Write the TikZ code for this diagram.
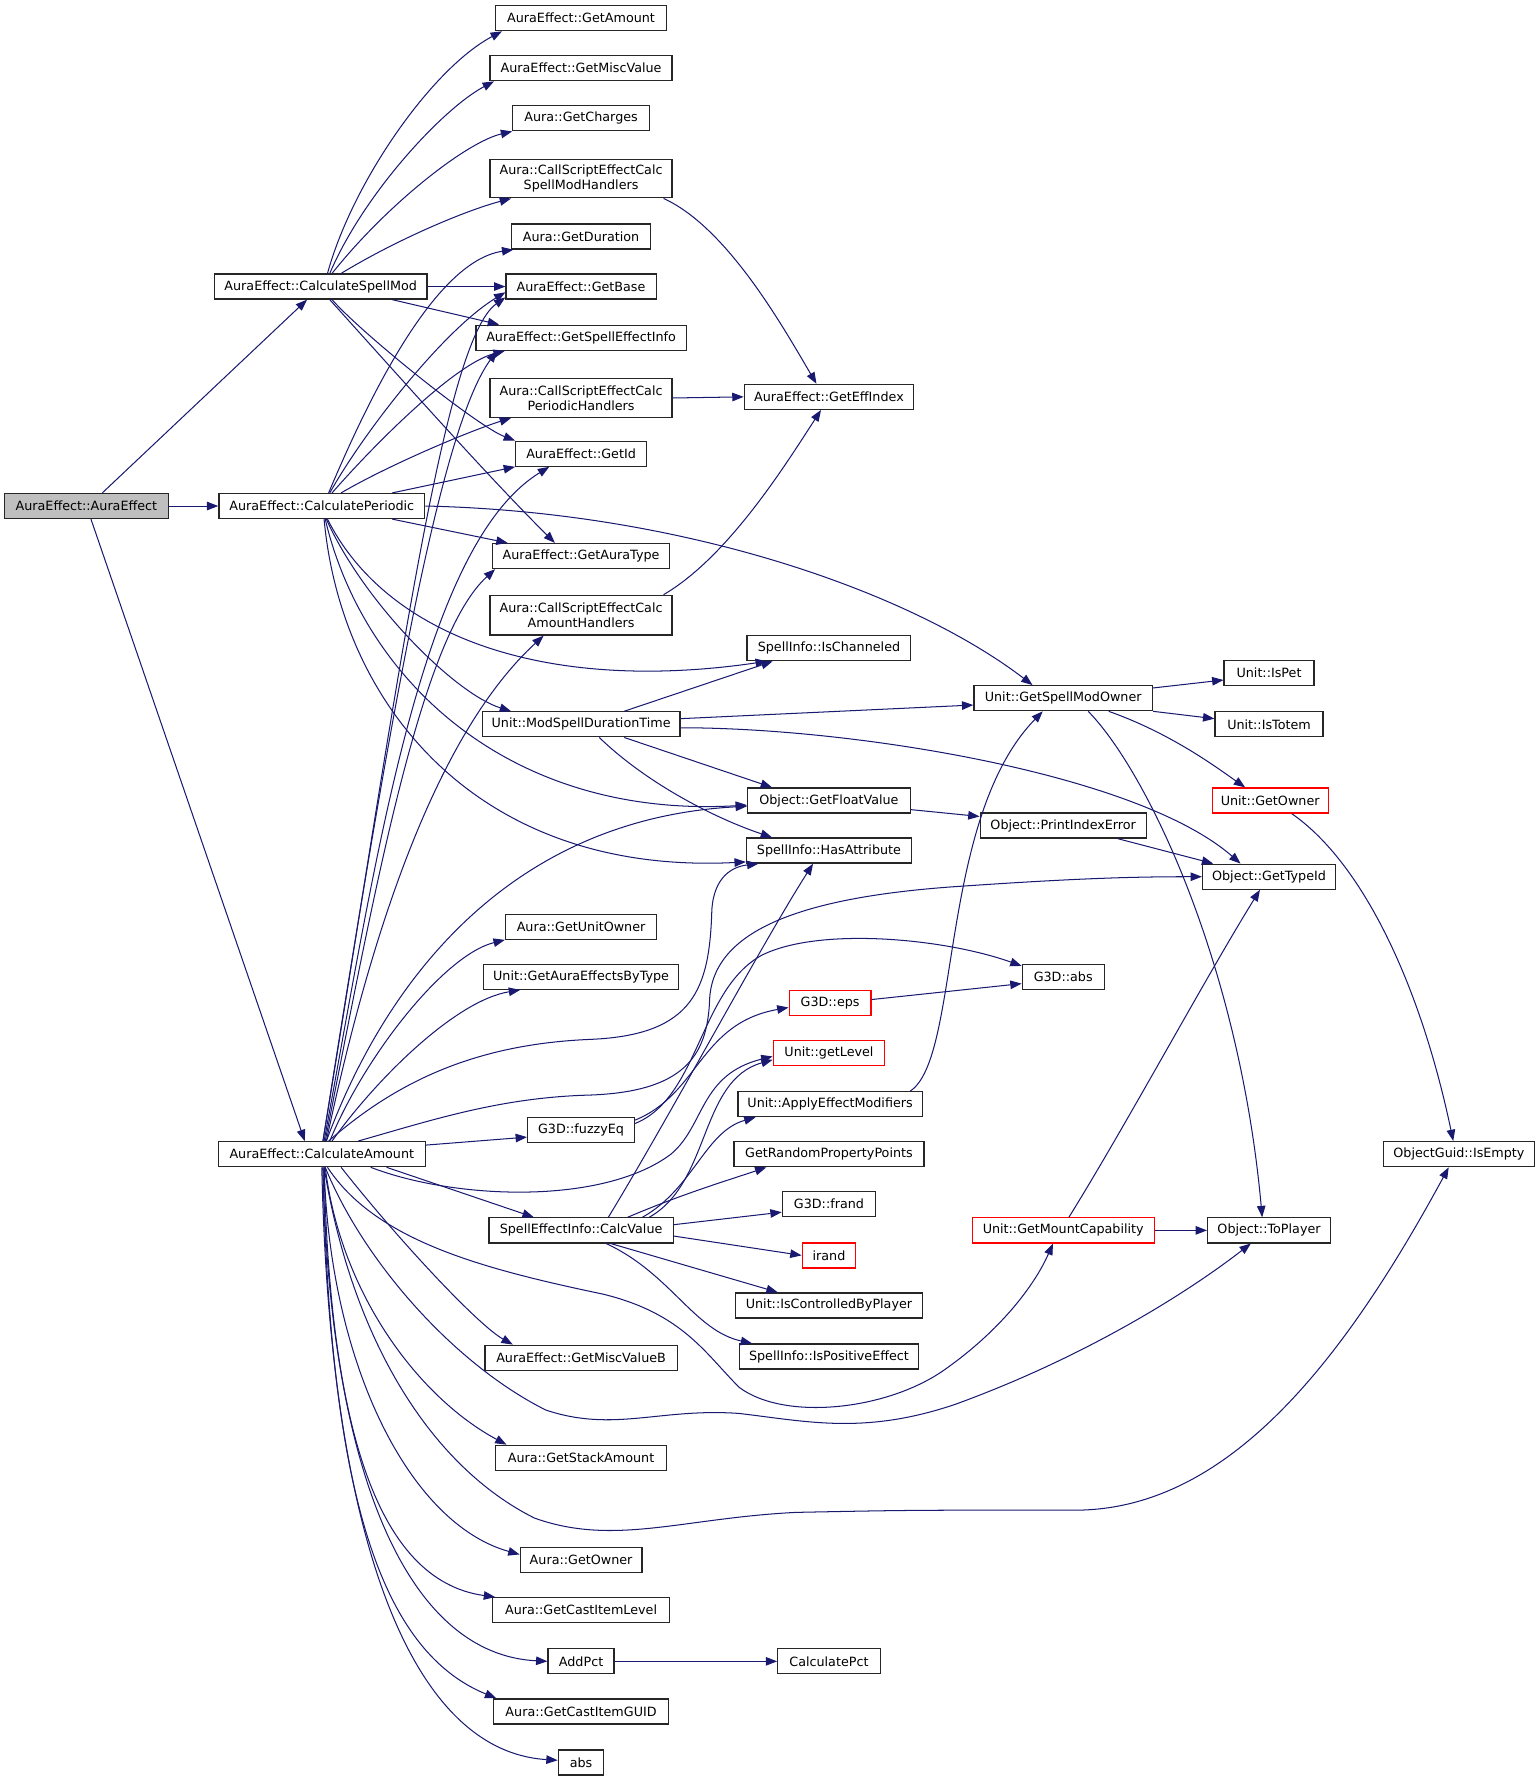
\documentclass[tikz,border=0pt]{standalone}
\usepackage{fontspec}
\newfontfamily\dejavu{DejaVu Sans}
\usetikzlibrary{arrows.meta}
\definecolor{edgeblue}{RGB}{25,25,112}
\tikzset{
    fn/.style={draw=black!85, fill=white, line width=1.1pt, minimum height=22pt,
               inner xsep=2pt, inner ysep=1pt, font=\dejavu\fontsize{11.2}{13}\selectfont},
    fnroot/.style={fn, fill=black!25},
    fnred/.style={fn, draw=red},
    fntwo/.style={fn, align=center, minimum height=34pt},
    call/.style={draw=edgeblue, line width=0.9pt, -{Triangle[length=10pt,width=7.5pt]}},
}
\begin{document}
\begin{tikzpicture}[x=1pt, y=-1pt]
    \useasboundingbox (0,0) rectangle (1354,1568);

    % Root and first level
    \node[fnroot, minimum width=144pt] (AE) at (76,445) {AuraEffect::AuraEffect};
    \node[fn, minimum width=187pt] (CSM) at (282,252) {AuraEffect::CalculateSpellMod};
    \node[fn, minimum width=181pt] (CP) at (283,445) {AuraEffect::CalculatePeriodic};
    \node[fn, minimum width=182pt] (CA) at (283,1015) {AuraEffect::CalculateAmount};

    % Second column
    \node[fn, minimum width=150pt] (GetAmount) at (511,16) {AuraEffect::GetAmount};
    \node[fn, minimum width=160pt] (GetMiscValue) at (511,60) {AuraEffect::GetMiscValue};
    \node[fn, minimum width=120pt] (GetCharges) at (511,104) {Aura::GetCharges};
    \node[fntwo, minimum width=160pt] (SpellModH) at (511,157) {Aura::CallScriptEffectCalc\\SpellModHandlers};
    \node[fn, minimum width=122pt] (GetDuration) at (511,208) {Aura::GetDuration};
    \node[fn, minimum width=132pt] (GetBase) at (511,252) {AuraEffect::GetBase};
    \node[fn, minimum width=185pt] (GetSEI) at (511,297) {AuraEffect::GetSpellEffectInfo};
    \node[fntwo, minimum width=160pt] (PeriodicH) at (511,350) {Aura::CallScriptEffectCalc\\PeriodicHandlers};
    \node[fn, minimum width=115pt] (GetId) at (511,399) {AuraEffect::GetId};
    \node[fn, minimum width=156pt] (GetAuraType) at (511,489) {AuraEffect::GetAuraType};
    \node[fntwo, minimum width=160pt, minimum height=35pt] (AmountH) at (511,541) {Aura::CallScriptEffectCalc\\AmountHandlers};
    \node[fn, minimum width=174pt] (ModSDT) at (511,637) {Unit::ModSpellDurationTime};
    \node[fn, minimum width=133pt] (GetUnitOwner) at (511,815) {Aura::GetUnitOwner};
    \node[fn, minimum width=172pt] (GetAEBT) at (511,859) {Unit::GetAuraEffectsByType};
    \node[fn, minimum width=94pt] (FuzzyEq) at (511,994) {G3D::fuzzyEq};
    \node[fn, minimum width=162pt] (CalcValue) at (511,1082) {SpellEffectInfo::CalcValue};
    \node[fn, minimum width=169pt] (GetMiscValueB) at (511,1194) {AuraEffect::GetMiscValueB};
    \node[fn, minimum width=150pt] (GetStackAmount) at (511,1282) {Aura::GetStackAmount};
    \node[fn, minimum width=107pt] (AuraGetOwner) at (511,1372) {Aura::GetOwner};
    \node[fn, minimum width=156pt] (GetCastItemLevel) at (511,1416) {Aura::GetCastItemLevel};
    \node[fn, minimum width=58pt] (AddPct) at (511,1461) {AddPct};
    \node[fn, minimum width=154pt] (GetCastItemGUID) at (511,1505) {Aura::GetCastItemGUID};
    \node[fn, minimum width=40pt] (Abs) at (511,1550) {abs};

    % Third column
    \node[fn, minimum width=149pt] (GetEffIndex) at (729,349) {AuraEffect::GetEffIndex};
    \node[fn, minimum width=144pt] (IsChanneled) at (729,570) {SpellInfo::IsChanneled};
    \node[fn, minimum width=143pt] (GetFloatValue) at (729,704) {Object::GetFloatValue};
    \node[fn, minimum width=145pt] (HasAttribute) at (729,748) {SpellInfo::HasAttribute};
    \node[fnred, minimum width=72pt] (Eps) at (730,882) {G3D::eps};
    \node[fnred, minimum width=98pt] (GetLevel) at (729,926) {Unit::getLevel};
    \node[fn, minimum width=162pt] (ApplyEM) at (730,971) {Unit::ApplyEffectModifiers};
    \node[fn, minimum width=167pt] (GetRPP) at (729,1015) {GetRandomPropertyPoints};
    \node[fn, minimum width=82pt] (Frand) at (729,1059) {G3D::frand};
    \node[fnred, minimum width=47pt] (Irand) at (729,1104) {irand};
    \node[fn, minimum width=165pt] (IsCBP) at (729,1148) {Unit::IsControlledByPlayer};
    \node[fn, minimum width=158pt] (IsPosEff) at (729,1193) {SpellInfo::IsPositiveEffect};
    \node[fn, minimum width=90pt] (CalcPct) at (729,1461) {CalculatePct};

    % Fourth column
    \node[fn, minimum width=157pt] (GetSMO) at (935,614) {Unit::GetSpellModOwner};
    \node[fn, minimum width=146pt] (PrintIE) at (935,726) {Object::PrintIndexError};
    \node[fn, minimum width=72pt] (G3DAbs) at (935,859) {G3D::abs};
    \node[fnred, minimum width=160pt] (GetMountCap) at (935,1082) {Unit::GetMountCapability};

    % Fifth and sixth columns
    \node[fn, minimum width=79pt] (IsPet) at (1116,592) {Unit::IsPet};
    \node[fn, minimum width=95pt] (IsTotem) at (1116,637) {Unit::IsTotem};
    \node[fnred, minimum width=102pt] (UnitGetOwner) at (1117,704) {Unit::GetOwner};
    \node[fn, minimum width=117pt] (GetTypeId) at (1116,771) {Object::GetTypeId};
    \node[fn, minimum width=108pt] (ToPlayer) at (1116,1082) {Object::ToPlayer};
    \node[fn, minimum width=133pt] (IsEmpty) at (1283,1015) {ObjectGuid::IsEmpty};

    % Calls of the constructor
    \draw[call] ([xshift=14pt]AE.north) -- ([xshift=-12pt]CSM.south);
    \draw[call] (AE.east) -- (CP.west);
    \draw[call] ([xshift=4pt]AE.south) -- ([xshift=-15pt]CA.north);

    % CalculateSpellMod
    \draw[call] ([xshift=6pt]CSM.north) .. controls (310,160) and (380,60) .. ([xshift=6pt]GetAmount.south west);
    \draw[call] ([xshift=8pt]CSM.north) .. controls (320,170) and (390,95) .. ([xshift=4pt]GetMiscValue.south west);
    \draw[call] ([xshift=10pt]CSM.north) .. controls (340,180) and (410,125) .. (GetCharges.south west);
    \draw[call] ([xshift=18pt]CSM.north) .. controls (350,210) and (410,185) .. ([xshift=19pt]SpellModH.south west);
    \draw[call] (CSM.east) -- (GetBase.west);
    \draw[call] ([xshift=63pt]CSM.south) -- ([xshift=21pt]GetSEI.north west);
    \draw[call] ([xshift=10pt]CSM.south) .. controls (320,295) and (420,375) .. (GetId.north west);
    \draw[call] ([xshift=8pt]CSM.south) .. controls (350,330) and (430,420) .. ([xshift=-23pt]GetAuraType.north);

    % CalculatePeriodic
    \draw[call] ([xshift=6pt]CP.north) .. controls (320,360) and (380,230) .. ([xshift=2pt]GetDuration.south west);
    \draw[call] ([xshift=7pt]CP.north) .. controls (320,380) and (390,290) .. ([yshift=-5pt]GetBase.west);
    \draw[call] ([xshift=9pt]CP.north) .. controls (330,390) and (400,320) .. ([xshift=26pt]GetSEI.south west);
    \draw[call] ([xshift=17pt]CP.north) .. controls (340,410) and (410,380) .. ([xshift=19pt]PeriodicH.south west);
    \draw[call] ([xshift=62pt]CP.north) -- (GetId.south west);
    \draw[call] ([xshift=62pt]CP.south) -- ([xshift=14pt]GetAuraType.north west);
    \draw[call] (CP.east) .. controls (600,450) and (800,520) .. ([xshift=-27pt]GetSMO.north);
    \draw[call] ([xshift=5pt]CP.south) .. controls (340,560) and (480,610) .. ([xshift=18pt]IsChanneled.south west);
    \draw[call] ([xshift=4pt]CP.south) .. controls (320,530) and (400,610) .. ([xshift=26pt]ModSDT.north west);
    \draw[call] ([xshift=3pt]CP.south) .. controls (320,600) and (450,720) .. ([yshift=-4pt]GetFloatValue.west);
    \draw[call] ([xshift=2pt]CP.south) .. controls (300,620) and (420,770) .. ([yshift=-10pt]HasAttribute.west);

    % ModSpellDurationTime
    \draw[call] ([xshift=38pt]ModSDT.north) -- ([xshift=23pt]IsChanneled.south west);
    \draw[call] ([yshift=5pt]ModSDT.east) -- ([yshift=-6pt]GetSMO.west);
    \draw[call] ([yshift=-3pt]ModSDT.east) .. controls (750,640) and (1000,680) .. ([xshift=34pt]GetTypeId.north west);
    \draw[call] ([xshift=38pt]ModSDT.south) -- ([xshift=22pt]GetFloatValue.north west);
    \draw[call] ([xshift=16pt]ModSDT.south) .. controls (570,690) and (630,720) .. ([xshift=23pt]HasAttribute.north west);

    % Script handlers
    \draw[call] ([xshift=-8pt]SpellModH.south east) .. controls (640,200) and (690,290) .. ([xshift=-11pt]GetEffIndex.north);
    \draw[call] (PeriodicH.east) -- (GetEffIndex.west);
    \draw[call] ([xshift=-8pt]AmountH.north east) .. controls (640,490) and (690,410) .. ([xshift=-7pt]GetEffIndex.south);

    % GetSpellModOwner
    \draw[call] ([yshift=9pt]GetSMO.east) -- ([yshift=-6pt]IsPet.west);
    \draw[call] (GetSMO.south east) -- ([yshift=5pt]IsTotem.west);
    \draw[call] ([xshift=40pt]GetSMO.south) .. controls (1030,645) and (1070,675) .. ([xshift=-22pt]UnitGetOwner.north);
    \draw[call] ([xshift=22pt]GetSMO.south) .. controls (1010,680) and (1090,850) .. ([xshift=-6pt]ToPlayer.north);

    % Right part
    \draw[call] ([yshift=-8pt]GetFloatValue.east) -- ([yshift=8pt]PrintIE.west);
    \draw[call] ([xshift=48pt]PrintIE.south) -- ([xshift=10pt]GetTypeId.north west);
    \draw[call] ([xshift=19pt]UnitGetOwner.south) .. controls (1200,760) and (1250,870) .. ([xshift=-5pt]IsEmpty.north);
    \draw[call] ([yshift=3pt]Eps.east) -- ([yshift=-6pt]G3DAbs.west);
    \draw[call] ([xshift=-11pt]ApplyEM.north east) .. controls (845,930) and (825,720) .. ([xshift=-18pt]GetSMO.south);
    \draw[call] (GetMountCap.east) -- (ToPlayer.west);
    \draw[call] ([xshift=5pt]GetMountCap.north) .. controls (990,990) and (1060,860) .. ([xshift=-8pt]GetTypeId.south);
    \draw[call] (AddPct.east) -- (CalcPct.west);

    % fuzzyEq
    \draw[call] ([yshift=6pt]FuzzyEq.east) .. controls (615,965) and (615,870) .. (670,840)
        .. controls (720,815) and (830,825) .. ([yshift=-2pt]G3DAbs.north west);
    \draw[call] ([yshift=9pt]FuzzyEq.east) .. controls (615,962) and (615,900) .. ([yshift=-4pt]Eps.west);

    % CalcValue
    \draw[call] ([xshift=24pt]CalcValue.north) .. controls (590,980) and (670,830) .. ([xshift=-14pt]HasAttribute.south);
    \draw[call] ([xshift=60pt]CalcValue.north) .. controls (625,1040) and (615,950) .. ([yshift=-6pt]GetLevel.west);
    \draw[call] ([xshift=54pt]CalcValue.north) .. controls (610,1045) and (620,995) .. ([xshift=16pt]ApplyEM.south west);
    \draw[call] ([xshift=41pt]CalcValue.north) .. controls (600,1050) and (640,1038) .. ([xshift=29pt]GetRPP.south west);
    \draw[call] ([yshift=5pt]CalcValue.east) -- ([yshift=-7pt]Frand.west);
    \draw[call] ([yshift=-5pt]CalcValue.east) -- (Irand.west);
    \draw[call] ([xshift=26pt]CalcValue.south) -- ([xshift=38pt]IsCBP.north west);
    \draw[call] ([xshift=22pt]CalcValue.south) .. controls (590,1120) and (610,1170) .. ([xshift=12pt]IsPosEff.north west);

    % CalculateAmount, upwards
    \draw[call] ([xshift=1pt]CA.north) .. controls (350,600) and (390,300) .. ([yshift=2pt]GetBase.south west);
    \draw[call] ([xshift=1pt]CA.north) .. controls (340,650) and (385,380) .. ([xshift=19pt]GetSEI.south west);
    \draw[call] ([xshift=2pt]CA.north) .. controls (330,760) and (370,480) .. ([xshift=-28pt]GetId.south);
    \draw[call] ([xshift=3pt]CA.north) .. controls (330,780) and (370,560) .. ([xshift=3pt]GetAuraType.south west);
    \draw[call] ([xshift=4pt]CA.north) .. controls (330,800) and (390,640) .. ([xshift=-33pt]AmountH.south);
    \draw[call] ([xshift=4pt]CA.north) .. controls (340,860) and (450,720) .. ([yshift=-5pt]GetFloatValue.west);
    \draw[call] ([xshift=6pt]CA.north) .. controls (350,950) and (420,918) .. (520,914)
        .. controls (610,910) and (624,870) .. (626,800)
        .. controls (628,770) and (645,762) .. ([xshift=11pt]HasAttribute.south west);
    \draw[call] ([xshift=32pt]CA.north) .. controls (380,985) and (440,965) .. (519,963)
        .. controls (600,960) and (622,930) .. (624,880)
        .. controls (626,820) and (700,790) .. (836,780)
        .. controls (950,772) and (1000,771) .. (GetTypeId.west);
    \draw[call] ([xshift=7pt]CA.north) .. controls (320,930) and (390,840) .. (GetUnitOwner.south west);
    \draw[call] ([xshift=9pt]CA.north) .. controls (330,950) and (400,880) .. ([xshift=33pt]GetAEBT.south west);
    \draw[call] ([yshift=8pt]CA.east) -- ([yshift=-6pt]FuzzyEq.west);

    % CalculateAmount, downwards
    \draw[call] ([xshift=57pt]CA.south) -- ([xshift=40pt]CalcValue.north west);
    \draw[call] ([xshift=43pt]CA.south) .. controls (400,1055) and (530,1060) .. (590,1015)
        .. controls (620,990) and (615,945) .. ([yshift=-3pt]GetLevel.west);
    \draw[call] ([xshift=5pt]CA.south) .. controls (330,1090) and (420,1115) .. (530,1138)
        .. controls (600,1155) and (620,1190) .. (650,1220)
        .. controls (690,1250) and (780,1240) .. (830,1205)
        .. controls (880,1170) and (910,1130) .. ([xshift=-9pt]GetMountCap.south);
    \draw[call] ([xshift=3pt]CA.south) .. controls (320,1110) and (400,1200) .. (480,1240)
        .. controls (540,1260) and (580,1238) .. (650,1243)
        .. controls (710,1250) and (760,1262) .. (840,1235)
        .. controls (950,1195) and (1040,1140) .. ([xshift=-16pt]ToPlayer.south);
    \draw[call] ([xshift=2pt]CA.south) .. controls (310,1180) and (380,1290) .. (470,1335)
        .. controls (540,1360) and (600,1335) .. (700,1330)
        .. controls (800,1328) .. (950,1328)
        .. controls (1080,1325) and (1180,1200) .. ([xshift=-9pt]IsEmpty.south);
    \draw[call] ([xshift=17pt]CA.south) .. controls (350,1090) and (420,1165) .. ([xshift=25pt]GetMiscValueB.north west);
    \draw[call] ([xshift=3pt]CA.south) .. controls (300,1140) and (370,1230) .. ([xshift=10pt]GetStackAmount.north west);
    \draw[call] ([xshift=2pt]CA.south) .. controls (290,1200) and (360,1340) .. ([yshift=5pt]AuraGetOwner.west);
    \draw[call] ([xshift=2pt]CA.south) .. controls (290,1250) and (330,1390) .. ([xshift=3pt]GetCastItemLevel.north west);
    \draw[call] ([xshift=1pt]CA.south) .. controls (290,1300) and (360,1455) .. (AddPct.west);
    \draw[call] ([xshift=1pt]CA.south) .. controls (290,1300) and (330,1450) .. ([xshift=3pt]GetCastItemGUID.north west);
    \draw[call] (CA.south) .. controls (290,1350) and (360,1540) .. ([yshift=2pt]Abs.west);
\end{tikzpicture}
\end{document}
